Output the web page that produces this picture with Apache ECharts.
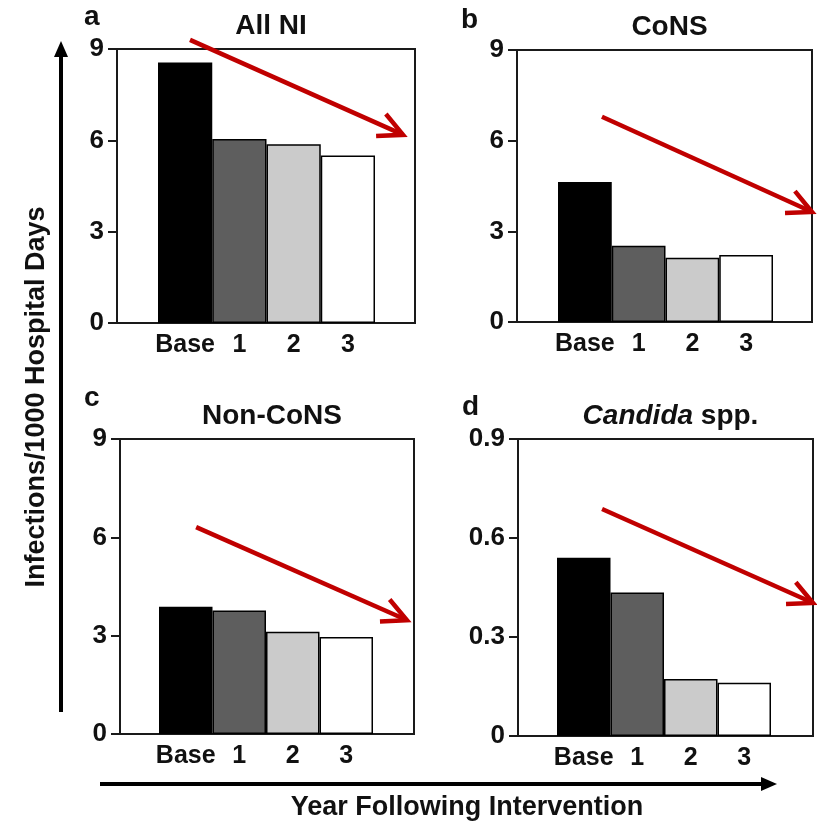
<!DOCTYPE html>
<html>
<head>
<meta charset="utf-8">
<script src="https://cdn.jsdelivr.net/npm/echarts@6/dist/echarts.min.js"></script>
<style>
html,body{margin:0;padding:0;background:#fff;}
#c{width:817px;height:824px;}
</style>
</head>
<body>
<div id="c"></div>
<script>
// ---- data ----
const categories = ['Base', '1', '2', '3'];
const allNI = [8.56, 6.04, 5.87, 5.50];
const cons = [4.63, 2.52, 2.13, 2.22];
const nonCons = [3.88, 3.77, 3.12, 2.96];
const candida = [0.540, 0.435, 0.173, 0.161];
const yMaxCounts = 9, yStepCounts = 3;
const yMaxCandida = 0.9, yStepCandida = 0.3;
const panelLetters = ['a', 'b', 'c', 'd'];
const panelTitles = ['All NI', 'CoNS', 'Non-CoNS', '{i|Candida} spp.'];
// trend arrows: [xFrac0, y0, xFrac1, y1] in each panel's frame coordinates
const trendA = [0.245, 9.30, 0.96, 6.18];
const trendB = [0.288, 6.79, 1.0, 3.64];
const trendC = [0.259, 6.31, 0.976, 3.47];
const trendD = [0.285, 0.688, 1.0, 0.403];
const yTitle = 'Infections/1000 Hospital Days';
const xTitle = 'Year Following Intervention';

const barColors = ['#000000', '#5e5e5e', '#cbcbcb', '#ffffff'];
const FONT = '"Liberation Sans", Arial, sans-serif';

const panels = [
  {data: allNI, max: yMaxCounts, step: yStepCounts, frame: {l: 117, r: 415, t: 49, b: 323}, bars: {l: 158, r: 375}, trend: trendA, letter: {x: 84, y: 31}},
  {data: cons, max: yMaxCounts, step: yStepCounts, frame: {l: 517, r: 812, t: 50, b: 322}, bars: {l: 558, r: 773}, trend: trendB, letter: {x: 461, y: 34}},
  {data: nonCons, max: yMaxCounts, step: yStepCounts, frame: {l: 120, r: 414, t: 439, b: 734}, bars: {l: 159, r: 373}, trend: trendC, letter: {x: 84, y: 412}},
  {data: candida, max: yMaxCandida, step: yStepCandida, frame: {l: 518, r: 813, t: 439, b: 736}, bars: {l: 557, r: 771}, trend: trendD, letter: {x: 462, y: 421}}
];

const chart = echarts.init(document.getElementById('c'), null, {renderer: 'canvas'});

const grid = [], xAxis = [], yAxis = [], series = [], title = [];
panels.forEach((p, i) => {
  const f = p.frame;
  grid.push({left: f.l, top: f.t, width: f.r - f.l, height: f.b - f.t, show: true,
    borderColor: '#1a1a1a', borderWidth: 2, backgroundColor: 'transparent', containLabel: false});
});
panels.forEach((p, i) => {
  const f = p.frame;
  grid.push({left: p.bars.l, top: f.t, width: p.bars.r - p.bars.l, height: f.b - f.t, show: false, containLabel: false});
});
panels.forEach((p, i) => {
  xAxis.push({gridIndex: i, type: 'value', min: 0, max: 1, show: true,
    axisLine: {show: false}, axisTick: {show: false}, axisLabel: {show: false}, splitLine: {show: false}});
  yAxis.push({gridIndex: i, type: 'value', min: 0, max: p.max, interval: p.step,
    axisLine: {show: true, lineStyle: {color: '#1a1a1a', width: 2}},
    axisTick: {show: true, inside: false, length: 9, lineStyle: {color: '#1a1a1a', width: 2}},
    axisLabel: {show: true, margin: 13, color: '#111', fontFamily: FONT, fontWeight: 'bold', fontSize: 26},
    splitLine: {show: false}});
});
panels.forEach((p, i) => {
  xAxis.push({gridIndex: 4 + i, type: 'category', data: categories, boundaryGap: true,
    axisLine: {show: false}, axisTick: {show: false},
    axisLabel: {show: true, margin: 10, color: '#111', fontFamily: FONT, fontWeight: 'bold', fontSize: 25, interval: 0}});
  yAxis.push({gridIndex: 4 + i, type: 'value', min: 0, max: p.max, show: false, splitLine: {show: false}});
  series.push({type: 'bar', xAxisIndex: 4 + i, yAxisIndex: 4 + i, barWidth: '100%', barGap: '0%',
    data: p.data.map((v, k) => ({value: v, itemStyle: {color: barColors[k]}})),
    itemStyle: {borderColor: '#000', borderWidth: 1.5}, silent: true, animation: false});
  const f = p.frame;
  title.push({text: panelTitles[i], left: (f.l + f.r) / 2, top: f.t - 42, textAlign: 'center',
    textStyle: {fontFamily: FONT, fontWeight: 'bold', fontSize: 28, color: '#111',
      rich: {i: {fontFamily: FONT, fontWeight: 'bold', fontStyle: 'italic', fontSize: 28, color: '#111'}}}});
});

chart.setOption({animation: false, grid, xAxis, yAxis, series, title});

// decorations
const RED = '#c00000';
const g = [];
function chevron(x0, y0, x1, y1, len, ang) {
  const a = Math.atan2(y1 - y0, x1 - x0) + Math.PI;
  return [[x1 + len * Math.cos(a - ang), y1 + len * Math.sin(a - ang)], [x1, y1], [x1 + len * Math.cos(a + ang), y1 + len * Math.sin(a + ang)]];
}
panels.forEach((p, i) => {
  const s = chart.convertToPixel({gridIndex: i}, [p.trend[0], p.trend[1]]);
  const e = chart.convertToPixel({gridIndex: i}, [p.trend[2], p.trend[3]]);
  g.push({type: 'line', shape: {x1: s[0], y1: s[1], x2: e[0] - 2, y2: e[1] - 1}, style: {stroke: RED, lineWidth: 4.5}, z: 100});
  g.push({type: 'polyline', shape: {points: chevron(s[0], s[1], e[0], e[1], 27, 0.46)}, style: {stroke: RED, lineWidth: 4.5, fill: null, lineJoin: 'miter'}, z: 100});
  g.push({type: 'text', style: {text: panelLetters[i], x: p.letter.x, y: p.letter.y, textVerticalAlign: 'bottom', font: 'bold 28px ' + FONT, fill: '#111'}, z: 100});
});
// axis arrows
g.push({type: 'line', shape: {x1: 61, y1: 712, x2: 61, y2: 54}, style: {stroke: '#000', lineWidth: 4}});
g.push({type: 'polygon', shape: {points: [[61, 41], [54, 57], [68, 57]]}, style: {fill: '#000'}});
g.push({type: 'line', shape: {x1: 100, y1: 784, x2: 764, y2: 784}, style: {stroke: '#000', lineWidth: 4}});
g.push({type: 'polygon', shape: {points: [[777, 784], [761, 777], [761, 791]]}, style: {fill: '#000'}});
g.push({type: 'text', rotation: Math.PI / 2, x: 37, y: 397,
  style: {text: yTitle, textAlign: 'center', textVerticalAlign: 'middle', font: 'bold 27px ' + FONT, fill: '#111'}});
g.push({type: 'text', x: 467, y: 808,
  style: {text: xTitle, textAlign: 'center', textVerticalAlign: 'middle', font: 'bold 27px ' + FONT, fill: '#111'}});
chart.setOption({graphic: g});
</script>
</body>
</html>
